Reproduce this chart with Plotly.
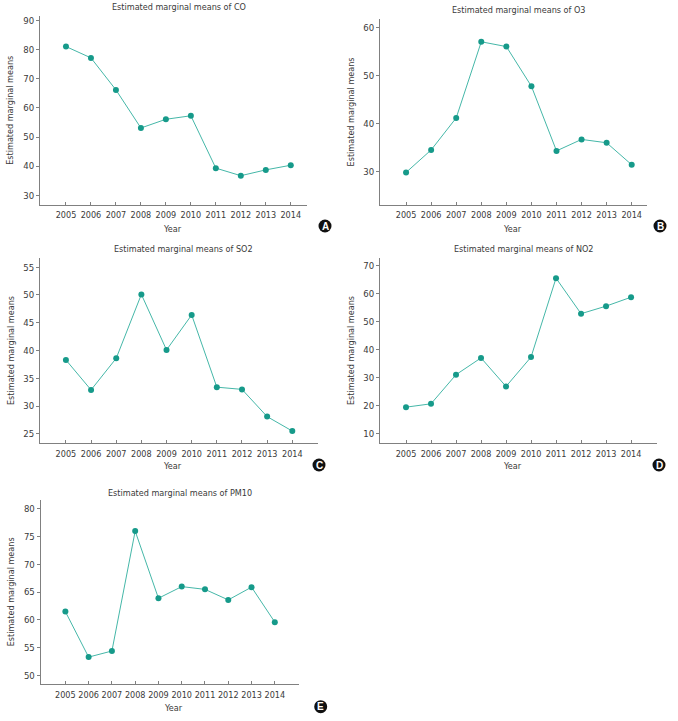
import plotly.graph_objects as go

# ----------------------------------
# DATA
# ----------------------------------

years = [2005, 2006, 2007, 2008, 2009, 2010, 2011, 2012, 2013, 2014]

co = [81.1, 77.2, 66.2, 53.1, 56.1, 57.3, 39.3, 36.7, 38.7, 40.3]
o3 = [29.8, 34.5, 41.2, 57.1, 56.1, 47.8, 34.3, 36.7, 36.0, 31.4]
so2 = [38.3, 32.9, 38.6, 50.1, 40.1, 46.4, 33.4, 33.0, 28.1, 25.5]
no2 = [19.5, 20.7, 31.1, 37.1, 26.9, 37.4, 65.6, 52.9, 55.6, 58.8]
pm10 = [61.5, 53.3, 54.4, 76.0, 63.9, 66.0, 65.5, 63.6, 65.9, 59.6]

pollutants = ["CO", "O3", "SO2", "NO2", "PM10"]
letters = ["A", "B", "C", "D", "E"]
series = [co, o3, so2, no2, pm10]

W, H = 678, 721

# ----------------------------------
# PANEL LAYOUT (pixels)
# ----------------------------------

# x0, x1, ytop, ybottom of plot area
boxes = [
    (40, 307, 16, 204.5),
    (380, 647, 19.3, 204.5),
    (40, 317.7, 258.3, 442.7),
    (380, 657.3, 258.3, 442.7),
    (40.7, 299, 500, 684.3),
]
xranges = [
    [2003.96, 2014.65],
    [2003.96, 2014.61],
    [2003.97, 2015.01],
    [2003.96, 2015.05],
    [2003.94, 2015.04],
]
yranges = [
    [26.8, 91.6],
    [23.1, 61.8],
    [23.4, 56.6],
    [6.8, 72.7],
    [48.4, 81.6],
]
yticks = [(30, 10), (30, 10), (25, 5), (10, 10), (50, 5)]
badges = [(325, 226), (660, 226), (319, 465), (659, 465), (320.7, 706.7)]
year_labels = [(172.7, 229.3), (512.7, 229.3), (172.3, 466), (512.3, 466), (173, 708.3)]

FONT = "DejaVu Sans Condensed, DejaVu Sans, sans-serif"
FS = 9
TXT = "#3a3a3a"
AXIS = "#808080"
LINE = "#45b7a8"
MARK = "#169a8a"


def px_x(v):
    return v / W


def px_y(v):
    return 1 - v / H


fig = go.Figure()
annotations = []
shapes = []

for i, name in enumerate(pollutants):

    n = "" if i == 0 else str(i + 1)
    x0, x1, yt, yb = boxes[i]

    fig.add_trace(
        go.Scatter(
            x=years,
            y=series[i],
            mode="lines+markers",
            line=dict(color=LINE, width=1),
            marker=dict(color=MARK, size=6),
            xaxis="x" + n,
            yaxis="y" + n,
            showlegend=False,
            cliponaxis=False
        )
    )

    fig.layout["xaxis" + n] = dict(
        domain=[px_x(x0), px_x(x1)],
        anchor="y" + n,
        range=xranges[i],
        tickmode="array",
        tickvals=years,
        ticktext=[str(y) for y in years],
        tickangle=0,
        ticks="inside",
        ticklen=3,
        ticklabelstandoff=2,
        tickcolor=AXIS,
        showline=True,
        linecolor=AXIS,
        linewidth=1,
        showgrid=False,
        zeroline=False,
        tickfont=dict(family=FONT, size=FS, color=TXT)
    )

    t0, dt = yticks[i]
    fig.layout["yaxis" + n] = dict(
        domain=[px_y(yb), px_y(yt)],
        anchor="x" + n,
        range=yranges[i],
        tick0=t0,
        dtick=dt,
        ticks="outside",
        ticklen=3,
        tickcolor=AXIS,
        showline=True,
        linecolor=AXIS,
        linewidth=1,
        showgrid=False,
        zeroline=False,
        tickfont=dict(family=FONT, size=FS + 0.5, color=TXT)
    )

    # panel title
    annotations.append(dict(
        text="Estimated marginal means of " + name,
        x=px_x((x0 + x1) / 2 + (5 if i < 4 else 10)),
        y=px_y(yt - 9 if i != 4 else yt - 6.7),
        xref="paper", yref="paper",
        showarrow=False,
        font=dict(family=FONT, size=FS, color=TXT),
        xanchor="center", yanchor="middle"
    ))

    # y axis title
    annotations.append(dict(
        text="Estimated marginal means",
        x=px_x(x0 - 29.5),
        y=px_y((yt + yb) / 2),
        xref="paper", yref="paper",
        showarrow=False,
        textangle=-90,
        font=dict(family=FONT, size=FS, color=TXT),
        xanchor="center", yanchor="middle"
    ))

    # x axis title
    lx, ly = year_labels[i]
    annotations.append(dict(
        text="Year",
        x=px_x(lx),
        y=px_y(ly),
        xref="paper", yref="paper",
        showarrow=False,
        font=dict(family=FONT, size=FS, color=TXT),
        xanchor="center", yanchor="middle"
    ))

    # panel letter badge
    bx, by = badges[i]
    r = 6.5
    shapes.append(dict(
        type="circle",
        xref="paper", yref="paper",
        x0=px_x(bx - r), x1=px_x(bx + r),
        y0=px_y(by + r), y1=px_y(by - r),
        fillcolor="#111111",
        line=dict(width=0)
    ))
    annotations.append(dict(
        text="<b>" + letters[i] + "</b>",
        x=px_x(bx),
        y=px_y(by),
        xref="paper", yref="paper",
        showarrow=False,
        font=dict(family="Liberation Sans, Arial, sans-serif", size=10, color="white"),
        xanchor="center", yanchor="middle"
    ))

fig.update_layout(
    width=W,
    height=H,
    margin=dict(l=0, r=0, t=0, b=0),
    paper_bgcolor="white",
    plot_bgcolor="white",
    annotations=annotations,
    shapes=shapes
)

# drop the default page margin so the figure fills the window
fig.write_html(
    "out.html",
    config={"displayModeBar": False},
    post_script="document.body.style.margin = '0'; document.body.style.overflow = 'hidden';"
)
